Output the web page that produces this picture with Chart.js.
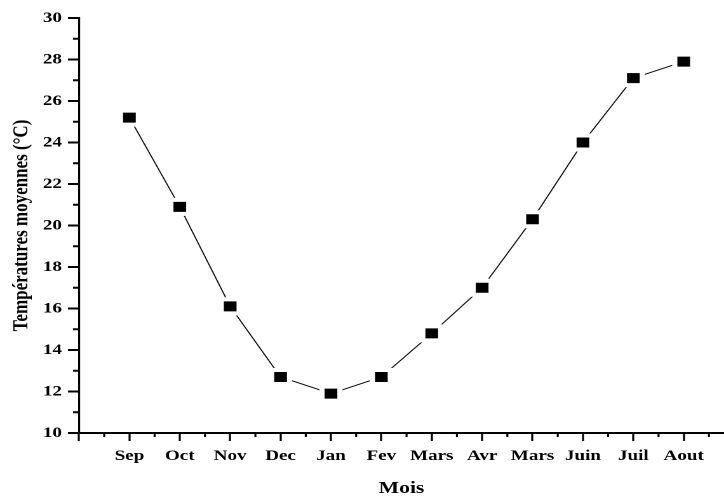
<!DOCTYPE html>
<html lang="fr">
<head>
<meta charset="utf-8">
<title>Températures moyennes mensuelles</title>
<script src="https://cdn.jsdelivr.net/npm/chart.js@4.4.1/dist/chart.umd.min.js"></script>
<style>
  html, body { margin: 0; padding: 0; background: #fff; overflow: hidden; }
  #wrap { width: 570px; height: 497px; transform: scaleX(1.2702); transform-origin: 0 0; }
</style>
</head>
<body>
<div id="wrap"><canvas id="chart" width="570" height="497"></canvas></div>
<script>
// Months of the hydrological year, September to August
const months = ['Sep', 'Oct', 'Nov', 'Dec', 'Jan', 'Fev', 'Mars', 'Avr', 'Mars', 'Juin', 'Juil', 'Aout'];
// Mean monthly temperatures (°C)
const temperatures = [25.2, 20.9, 16.1, 12.7, 11.9, 12.7, 14.8, 17.0, 20.3, 24.0, 27.1, 27.9];
// Major tick values of the temperature axis
const yTicks = [10, 12, 14, 16, 18, 20, 22, 24, 26, 28, 30];

const X_MIN = -1;
const X_MAX = 11.8;

const points = months.map((m, i) => ({ x: i, y: temperatures[i] }));
// one tick before the first month, one per month, and an invisible one at the axis end
const xTicks = [X_MIN].concat(months.map((m, i) => i), [X_MAX]);

const FONT = "'Liberation Serif', 'Times New Roman', serif";

// Short unlabelled ticks half-way between the major ones
const minorTicks = {
  id: 'minorTicks',
  afterDraw(chart) {
    const { ctx, scales: { x, y } } = chart;
    ctx.save();
    ctx.strokeStyle = '#000';
    ctx.lineWidth = 1.6;
    for (let v = x.min + 0.5; v < x.max; v += 1) {
      const px = x.getPixelForValue(v);
      ctx.beginPath();
      ctx.moveTo(px, y.bottom);
      ctx.lineTo(px, y.bottom + 4);
      ctx.stroke();
    }
    ctx.lineWidth = 2;
    for (let v = y.min + 1; v < y.max; v += 2) {
      const py = y.getPixelForValue(v);
      ctx.beginPath();
      ctx.moveTo(x.left, py);
      ctx.lineTo(x.left - 4.7, py);
      ctx.stroke();
    }
    ctx.restore();
  }
};

new Chart(document.getElementById('chart'), {
  type: 'line',
  data: {
    datasets: [{
      data: points,
      borderColor: '#111',
      borderWidth: 1,
      tension: 0,
      pointStyle: 'rect',
      pointRadius: 9.9,
      pointHoverRadius: 9.9,
      pointBackgroundColor: '#000',
      pointBorderColor: '#fff',
      pointBorderWidth: 4
    }]
  },
  options: {
    responsive: false,
    animation: false,
    devicePixelRatio: 2,
    layout: { autoPadding: false, padding: { top: 18, left: 0, right: 0, bottom: 0 } },
    plugins: { legend: { display: false }, tooltip: { enabled: false } },
    scales: {
      x: {
        type: 'linear',
        min: X_MIN,
        max: X_MAX,
        afterBuildTicks: s => { s.ticks = xTicks.map(v => ({ value: v })); },
        afterFit: s => { s.height = 64; s.paddingLeft = 0; s.paddingRight = 0; },
        border: { display: true, color: '#000', width: 2 },
        grid: {
          drawOnChartArea: false,
          drawTicks: true,
          tickLength: 8,
          tickWidth: 1.6,
          tickColor: c => (c.tick && c.tick.value === X_MAX ? 'rgba(0,0,0,0)' : '#000')
        },
        ticks: {
          maxRotation: 0,
          autoSkip: false,
          padding: 6,
          color: '#000',
          font: { family: FONT, size: 15, weight: 'bold' },
          callback: v => (Number.isInteger(v) && v >= 0 && v < months.length ? months[v] : '')
        },
        title: {
          display: true,
          text: 'Mois',
          color: '#000',
          padding: { top: 0, bottom: 0 },
          font: { family: FONT, size: 17, weight: 'bold', lineHeight: 1 }
        }
      },
      y: {
        min: 10,
        max: 30,
        afterBuildTicks: s => { s.ticks = yTicks.map(v => ({ value: v })); },
        afterFit: s => { s.width = 62.2; },
        border: { display: true, color: '#000', width: 1.6 },
        grid: { drawOnChartArea: false, drawTicks: true, tickLength: 8.7, tickWidth: 2, tickColor: '#000' },
        ticks: {
          padding: 4.7,
          color: '#000',
          font: { family: FONT, size: 15, weight: 'bold' }
        },
        title: {
          display: true,
          text: 'Températures moyennes (°C)',
          color: '#000',
          padding: { top: 8.8, bottom: 0 },
          font: { family: FONT, size: 17, weight: 'bold', lineHeight: 1 }
        }
      }
    }
  },
  plugins: [minorTicks]
});
</script>
</body>
</html>
